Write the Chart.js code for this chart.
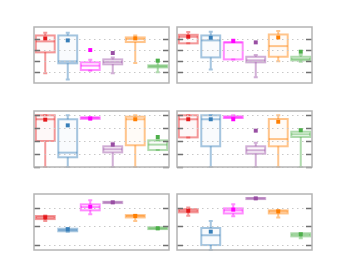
<!DOCTYPE html>
<html><head><meta charset="utf-8">
<script src="https://cdn.jsdelivr.net/npm/chart.js@4"></script>
<style>
html,body{margin:0;padding:0;background:#fff;width:347px;height:278px;overflow:hidden;position:relative}
canvas{position:absolute}
</style></head><body>
<canvas id="c0" width="143" height="64"></canvas>
<canvas id="c1" width="143" height="64"></canvas>
<canvas id="c2" width="143" height="64"></canvas>
<canvas id="c3" width="143" height="64"></canvas>
<canvas id="c4" width="143" height="64"></canvas>
<canvas id="c5" width="143" height="64"></canvas>
<script>
const groups = ['A','B','C','D','E','F'];
const colors = ['#e41a1c','#377eb8','#ff00ff','#984ea3','#ff7f00','#4daf4a'];

// one row per panel, one value per group
const whiskerLow = [
  [0.88,0.33,1.12,0.88,1.82,0.97],
  [3.61,1.24,2.15,0.52,1.97,1.94],
  [0.00,0.00,3.72,0.00,0.00,1.31],
  [2.29,0.00,3.79,0.00,0.00,0.00],
  [2.29,1.71,2.66,3.28,2.29,1.85],
  [2.59,0.70,2.55,3.50,2.49,1.34]
];
const q1 = [
  [2.79,1.79,1.18,1.70,3.73,1.42],
  [3.61,2.33,2.15,1.88,2.39,2.06],
  [2.01,0.75,3.72,1.13,1.68,1.31],
  [2.29,1.60,3.79,1.03,1.60,2.32],
  [2.40,1.73,2.88,3.28,2.49,1.85],
  [2.77,0.97,2.71,3.50,2.71,1.45]
];
const median = [
  [3.79,1.97,1.58,1.91,4.00,1.52],
  [4.21,3.88,3.70,2.06,3.36,2.18],
  [3.69,1.11,3.80,1.37,3.69,1.73],
  [3.69,3.69,3.84,1.29,2.16,2.53],
  [2.49,1.80,3.06,3.32,2.57,1.89],
  [2.86,1.51,2.88,3.54,2.82,1.54]
];
const q3 = [
  [4.33,4.33,1.88,2.15,4.15,1.61],
  [4.39,4.33,3.70,2.39,4.42,2.39],
  [4.00,3.69,3.84,1.60,3.89,2.06],
  [4.00,4.00,3.92,1.60,3.71,2.73],
  [2.57,1.87,3.21,3.35,2.62,1.95],
  [2.95,1.91,2.99,3.56,2.88,1.62]
];
const whiskerHigh = [
  [4.58,4.58,2.12,2.33,4.33,2.12],
  [4.64,4.67,3.97,2.55,4.73,2.58],
  [4.00,4.00,3.84,1.88,4.00,2.06],
  [4.00,4.00,4.00,1.88,4.00,2.94],
  [2.60,1.91,3.43,3.35,2.64,1.95],
  [3.04,2.29,3.21,3.56,2.88,1.62]
];
const mean = [
  [4.06,3.88,3.00,2.73,4.06,2.03],
  [4.21,4.12,3.82,3.70,4.15,2.85],
  [3.66,3.22,3.74,1.73,3.69,2.32],
  [3.69,3.69,3.69,2.81,3.50,2.84],
  [2.49,1.84,3.08,3.32,2.57,1.89],
  [2.86,1.71,2.92,3.54,2.82,1.56]
];
const yMin = [0,0,0,0,0.7,0.7];
const yMax = [5.1,5.1,4.33,4.33,3.78,3.78];
const yTicks = [[1,2,3,4],[1,2,3,4],[0,1,2,3,4],[0,1,2,3,4],[1,2,3],[1,2,3]];

// layout
const panelPos = [[30,23],[173,23],[30,107],[173,107],[30,190],[173,190]];

const boxPlugin = {
  id: 'boxes',
  beforeDatasetsDraw(chart) {
    const p = chart.options.plugins.boxes.panel;
    const {ctx, chartArea: a, scales: {x, y}} = chart;
    ctx.save();
    ctx.setLineDash([]);
    const half = (x.getPixelForValue(1) - x.getPixelForValue(0)) * 0.42;
    for (let i = 0; i < groups.length; i++) {
      const cx = x.getPixelForValue(i);
      const c = colors[i];
      const yl = y.getPixelForValue(whiskerLow[p][i]);
      const y1 = y.getPixelForValue(q1[p][i]);
      const ym = y.getPixelForValue(median[p][i]);
      const y3 = y.getPixelForValue(q3[p][i]);
      const yh = y.getPixelForValue(whiskerHigh[p][i]);
      ctx.globalAlpha = 0.45; ctx.strokeStyle = c; ctx.lineWidth = 2;
      ctx.beginPath();
      ctx.moveTo(cx, y1); ctx.lineTo(cx, yl);
      ctx.moveTo(cx, y3); ctx.lineTo(cx, yh);
      ctx.moveTo(cx - 2, yl); ctx.lineTo(cx + 2, yl);
      ctx.moveTo(cx - 2, yh); ctx.lineTo(cx + 2, yh);
      ctx.stroke();
      ctx.globalAlpha = 0.03; ctx.fillStyle = c;
      ctx.fillRect(cx - half, y3, 2 * half, y1 - y3);
      ctx.globalAlpha = 0.45;
      ctx.strokeRect(cx - half, y3, 2 * half, y1 - y3);
      ctx.beginPath(); ctx.moveTo(cx - half, ym); ctx.lineTo(cx + half, ym); ctx.stroke();
    }
    ctx.globalAlpha = 1;
    // dotted grid (drawn over the open boxes, as in the reference)
    ctx.strokeStyle = '#c8c8c8'; ctx.lineWidth = 1; ctx.setLineDash([1.5, 3.5]);
    for (const t of yTicks[p]) {
      const py = Math.round(y.getPixelForValue(t)) + 0.5;
      ctx.beginPath(); ctx.moveTo(a.left, py); ctx.lineTo(a.right, py); ctx.stroke();
    }
    ctx.restore();
  },
  afterDraw(chart) {
    const p = chart.options.plugins.boxes.panel;
    const {ctx, chartArea: a, scales: {y}} = chart;
    ctx.save();
    ctx.strokeStyle = '#707070'; ctx.lineWidth = 1.5;
    for (const t of yTicks[p]) {
      const py = Math.round(y.getPixelForValue(t)) + 0.5;
      ctx.beginPath();
      ctx.moveTo(a.left, py); ctx.lineTo(a.left + 6, py);
      ctx.moveTo(a.right - 6, py); ctx.lineTo(a.right, py);
      ctx.stroke();
    }
    ctx.strokeStyle = '#b4b4b4'; ctx.lineWidth = 1.5;
    ctx.strokeRect(a.left, a.top, a.right - a.left, a.bottom - a.top);
    ctx.restore();
  }
};

for (let p = 0; p < 6; p++) {
  const cv = document.getElementById('c' + p);
  cv.style.left = panelPos[p][0] + 'px';
  cv.style.top = panelPos[p][1] + 'px';
  new Chart(cv, {
    type: 'scatter',
    data: {
      datasets: [{
        data: groups.map((g, i) => ({x: i, y: mean[p][i]})),
        pointStyle: 'rect',
        pointRadius: 2.8,
        backgroundColor: colors,
        borderWidth: 0
      }]
    },
    options: {
      responsive: false,
      animation: false,
      devicePixelRatio: 1,
      layout: {padding: 4},
      scales: {
        x: {type: 'linear', min: -0.5, max: 5.5, display: false},
        y: {min: yMin[p], max: yMax[p], display: false}
      },
      plugins: {legend: {display: false}, tooltip: {enabled: false}, boxes: {panel: p}}
    },
    plugins: [boxPlugin]
  });
}
</script>
</body></html>
